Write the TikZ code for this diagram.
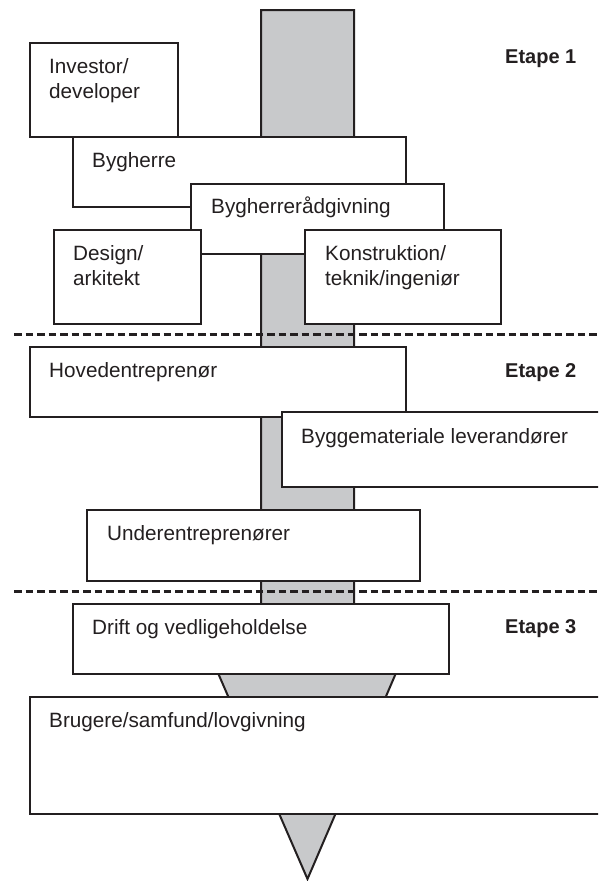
\documentclass[tikz,border=0pt]{standalone}
\usepackage{fontspec}
\setmainfont{Liberation Sans}
\definecolor{ink}{HTML}{231F20}
\definecolor{barfill}{HTML}{C8C9CB}
\begin{document}
\begin{tikzpicture}[x=1pt,y=-1pt,
  box/.style={draw=ink, line width=2pt, fill=white, rectangle, inner sep=0pt, anchor=north west},
  lbl/.style={text=ink, anchor=base west, inner sep=0pt, font=\fontsize{20.7}{25}\selectfont, align=left},
  etape/.style={text=ink, anchor=base west, inner sep=0pt, font=\fontsize{20}{24}\selectfont\bfseries},
  divider/.style={draw=ink, line width=3pt, dash pattern=on 7.5pt off 4pt},
  spine/.style={draw=ink, line width=2pt, fill=barfill, line join=miter}]
\clip (0,0) rectangle (598,881);
% grey spine and point
\draw[spine] (261,10) -- (354,10) -- (354,673) -- (396,673) -- (307.5,879) -- (218,673) -- (261,673) -- cycle;
% stage dividers
\coordinate (d1a) at (14,334); \coordinate (d1b) at (600,334);
\coordinate (d2a) at (14,591); \coordinate (d2b) at (600,591);
\draw[divider] (d1a) -- (d1b);
\draw[divider] (d2a) -- (d2b);
% boxes
\node[box, minimum width=148, minimum height=94] (inv) at (29,42) {};
\node[box, minimum width=333, minimum height=70] (byg) at (72,136) {};
\node[box, minimum width=253, minimum height=70] (rad) at (190,183) {};
\node[box, minimum width=147, minimum height=94] (des) at (53,229) {};
\node[box, minimum width=196, minimum height=94] (kon) at (304,229) {};
\node[box, minimum width=376, minimum height=70] (hov) at (29,346) {};
\node[box, minimum width=330, minimum height=75] (mat) at (281,411) {};
\node[box, minimum width=333, minimum height=71] (und) at (86,509) {};
\node[box, minimum width=376, minimum height=70] (dri) at (72,603) {};
\node[box, minimum width=580, minimum height=117] (bru) at (29,696) {};
% labels (base anchor = baseline of the last line)
\node[lbl] (tinv) at ([shift={(20,56)}]inv.north west) {Investor/\\developer};
\node[lbl] (tbyg) at ([shift={(20,31)}]byg.north west) {Bygherre};
\node[lbl] (trad) at ([shift={(21,30)}]rad.north west) {Bygherrerådgivning};
\node[lbl] (tdes) at ([shift={(20,56)}]des.north west) {Design/\\arkitekt};
\node[lbl] (tkon) at ([shift={(21,56)}]kon.north west) {Konstruktion/\\teknik/ingeniør};
\node[lbl] (thov) at ([shift={(20,31)}]hov.north west) {Hovedentreprenør};
\node[lbl] (tmat) at ([shift={(20,32)}]mat.north west) {Byggemateriale leverandører};
\node[lbl] (tund) at ([shift={(21,31)}]und.north west) {Underentreprenører};
\node[lbl] (tdri) at ([shift={(20,31)}]dri.north west) {Drift og vedligeholdelse};
\node[lbl] (tbru) at ([shift={(20,31)}]bru.north west) {Brugere/samfund/lovgivning};
% stage labels
\node[etape] (e1) at (505,63) {Etape 1};
\node[etape] (e2) at (505,377) {Etape 2};
\node[etape] (e3) at (505,633) {Etape 3};
\end{tikzpicture}
\end{document}
